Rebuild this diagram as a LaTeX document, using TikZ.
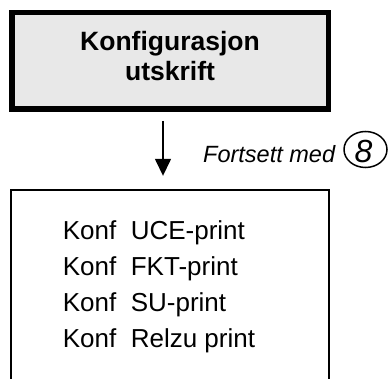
\documentclass[tikz,border=0pt]{standalone}
\usepackage{fontspec}
\setmainfont{Liberation Sans}
\usetikzlibrary{arrows.meta,shapes.geometric}
\definecolor{boxgray}{RGB}{232,232,232}
\tikzset{
  topbox/.style={draw=black, fill=boxgray, line width=5.5pt, minimum width=316.5pt, minimum height=96.5pt, inner sep=0pt},
  itembox/.style={draw=none, minimum width=318pt, minimum height=220pt, inner sep=0pt},
  conn/.style={line width=1.5pt, -{Triangle[length=17pt,width=16pt]}},
  ring/.style={draw=black, line width=1.5pt, ellipse, minimum width=43pt, minimum height=36pt, inner sep=0pt},
}
\begin{document}
\begin{tikzpicture}[x=1pt,y=1pt]
\useasboundingbox (0,0) rectangle (390,-379);
\node[topbox] (top) at (170,-61) {};
\node[font=\bfseries\fontsize{26.5}{30}\selectfont, align=center, anchor=base, inner sep=0pt] (toptext) at (170,-81) {Konfigurasjon\\utskrift};
\node[itembox] (bot) at (170,-300) {};
\draw[line width=2pt] (bot.south west) -- (bot.north west) -- (bot.north east) -- (bot.south east);
\draw[conn, shorten <=9pt, shorten >=14pt] (top.south -| 163,0) -- (bot.north -| 163,0);
\node[font=\itshape\fontsize{23.5}{28}\selectfont, anchor=base west, inner sep=0pt] (cont) at (203,-163) {Fortsett med};
\node[ring] (eight) at (365.5,-149.5) {};
\node[font=\itshape\fontsize{32}{34}\selectfont, anchor=base, inner sep=0pt] (eighttext) at (363.5,-163) {8};
\node[font=\fontsize{26}{36}\selectfont, align=left, anchor=base west, inner sep=0pt] (items) at (62.7,-347) {Konf\ \ UCE-print\\Konf\ \ FKT-print\\Konf\ \ SU-print\\Konf\ \ Relzu print};
\end{tikzpicture}
\end{document}
